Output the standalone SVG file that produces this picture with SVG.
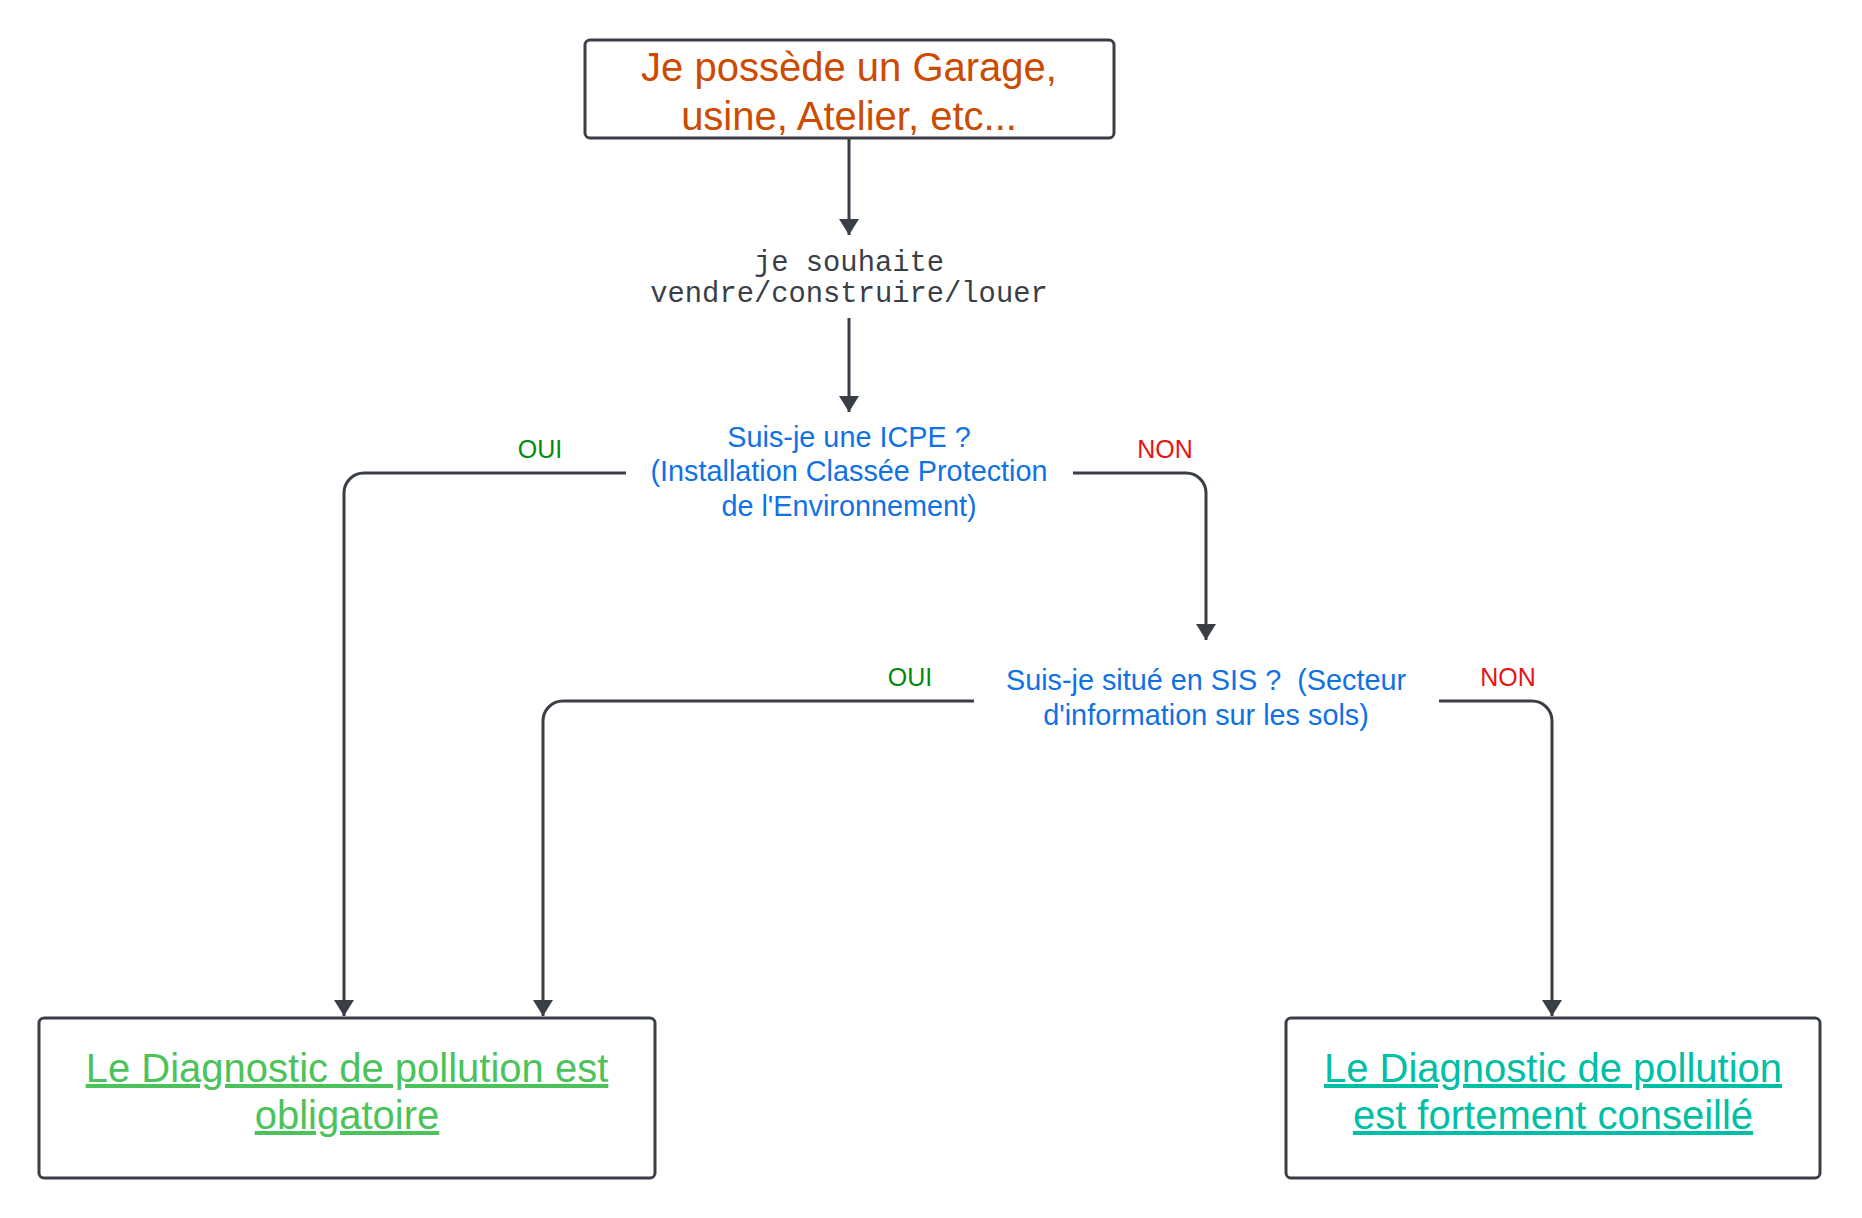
<svg xmlns="http://www.w3.org/2000/svg" width="1862" height="1218" viewBox="0 0 1862 1218">
<style>
.box{fill:#ffffff;stroke:#3a3f47;stroke-width:3}
.conn{fill:none;stroke:#3a3f47;stroke-width:3}
.sans{font-family:"Liberation Sans",Arial,sans-serif;text-anchor:middle}
.mono{font-family:"Liberation Mono","Courier New",monospace;text-anchor:middle;font-size:28.8px;fill:#3a3f47}
.q{font-size:28.8px;fill:#1071e5}
.lbl{font-size:25px}
.oui{fill:#008a0e}
.non{fill:#e81313}
.big{font-size:40px}
</style>
<defs>
<marker id="arr" markerUnits="userSpaceOnUse" viewBox="0 0 16 20" markerWidth="16" markerHeight="20" refX="16" refY="10" orient="auto">
<path d="M0,0 L16,10 L0,20 z" fill="#3a3f47"/>
</marker>
</defs>
<rect width="1862" height="1218" fill="#ffffff"/>
<g id="connectors">
<path class="conn" d="M849,138 V235" marker-end="url(#arr)"/>
<path class="conn" d="M849,318 V412" marker-end="url(#arr)"/>
<path class="conn" d="M626,473 H364 A20,20 0 0 0 344,493 V1016" marker-end="url(#arr)"/>
<path class="conn" d="M1073,473 H1186 A20,20 0 0 1 1206,493 V640" marker-end="url(#arr)"/>
<path class="conn" d="M974,701 H563 A20,20 0 0 0 543,721 V1016" marker-end="url(#arr)"/>
<path class="conn" d="M1439,701 H1532 A20,20 0 0 1 1552,721 V1016" marker-end="url(#arr)"/>
<text class="sans lbl oui" x="540" y="458">OUI</text>
<text class="sans lbl non" x="1165" y="458">NON</text>
<text class="sans lbl oui" x="910" y="686">OUI</text>
<text class="sans lbl non" x="1508" y="686">NON</text>
</g>
<g id="start">
<rect class="box" x="585" y="40" width="529" height="98" rx="5"/>
<text class="sans big" fill="#cc4b00" x="849" y="81">Je possède un Garage,</text>
<text class="sans big" fill="#cc4b00" x="849" y="130">usine, Atelier, etc...</text>
</g>
<g id="souhaite">
<text class="mono" x="849" y="271">je souhaite</text>
<text class="mono" x="849" y="302">vendre/construire/louer</text>
</g>
<g id="icpe">
<text class="sans q" x="849" y="447">Suis-je une ICPE ?</text>
<text class="sans q" x="849" y="481">(Installation Classée Protection</text>
<text class="sans q" x="849" y="516">de l'Environnement)</text>
</g>
<g id="sis">
<text class="sans q" x="1206" y="690" xml:space="preserve">Suis-je situé en SIS ?  (Secteur</text>
<text class="sans q" x="1206" y="725">d'information sur les sols)</text>
</g>
<g id="obligatoire">
<rect class="box" x="39" y="1018" width="616" height="160" rx="5"/>
<text class="sans big" fill="#4bc35a" text-decoration="underline" x="347" y="1082">Le Diagnostic de pollution est</text>
<text class="sans big" fill="#4bc35a" text-decoration="underline" x="347" y="1129">obligatoire</text>
</g>
<g id="conseille">
<rect class="box" x="1286" y="1018" width="534" height="160" rx="5"/>
<text class="sans big" fill="#00bfa5" text-decoration="underline" x="1553" y="1082">Le Diagnostic de pollution</text>
<text class="sans big" fill="#00bfa5" text-decoration="underline" x="1553" y="1129">est fortement conseillé</text>
</g>
</svg>
